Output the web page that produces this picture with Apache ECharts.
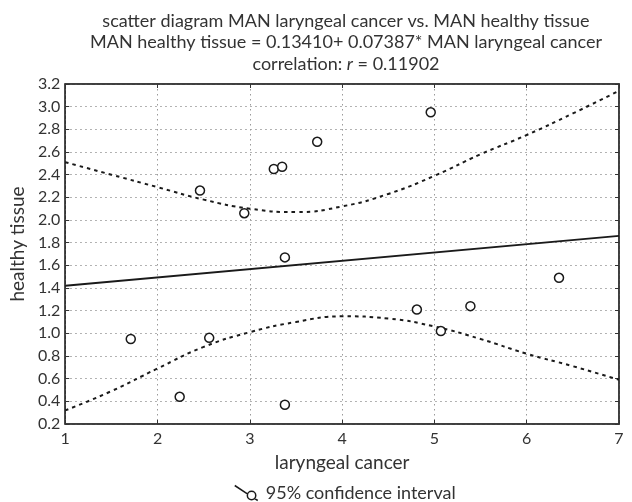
<!DOCTYPE html>
<html>
<head>
<meta charset="utf-8">
<script src="https://cdn.jsdelivr.net/npm/echarts@6/dist/echarts.min.js"></script>
<style>
html,body{margin:0;padding:0;background:#fff;}
#chart{width:632px;height:502px;}
</style>
</head>
<body>
<div id="chart"></div>
<script>
// Observed points (laryngeal cancer, healthy tissue)
var pointX = [1.71, 2.24, 2.56, 3.38, 2.46, 2.94, 3.26, 3.35, 3.38, 3.73, 4.96, 4.81, 5.07, 5.39, 6.35];
var pointY = [0.95, 0.44, 0.96, 0.37, 2.26, 2.06, 2.45, 2.47, 1.67, 2.69, 2.95, 1.21, 1.02, 1.24, 1.49];

// Regression line endpoints
var fitX = [1, 7];
var fitY = [1.42, 1.86];

// 95% confidence band, sampled from the chart
var bandX = [1, 1.5, 2, 2.5, 3, 3.5, 4, 4.5, 5, 5.5, 6, 6.5, 7];
var bandUpper = [2.51, 2.40, 2.29, 2.18, 2.10, 2.07, 2.12, 2.23, 2.39, 2.58, 2.75, 2.94, 3.14];
var bandLower = [0.32, 0.49, 0.69, 0.88, 1.01, 1.10, 1.15, 1.13, 1.06, 0.95, 0.82, 0.71, 0.59];

var xTicks = [1, 2, 3, 4, 5, 6, 7];
var yTicks = [0.2, 0.4, 0.6, 0.8, 1.0, 1.2, 1.4, 1.6, 1.8, 2.0, 2.2, 2.4, 2.6, 2.8, 3.0, 3.2];

var titleLines = [
  'scatter diagram MAN laryngeal cancer vs. MAN healthy tissue',
  'MAN healthy tissue = 0.13410+ 0.07387* MAN laryngeal cancer',
  'correlation: {i|r} = 0.11902'
];
var xName = 'laryngeal cancer';
var yName = 'healthy tissue';
var bandName = '95% confidence interval';

function zip(a, b) { return a.map(function (v, i) { return [v, b[i]]; }); }

var FONT = 'Lato';
var TXT = '#333';
var INK = '#1a1a1a';

var chart = echarts.init(document.getElementById('chart'), null, {renderer: 'canvas'});
var gridLine = {show: true, lineStyle: {color: '#9a9a9a', type: [1.5, 3.5], width: 1}};

chart.setOption({
  animation: false,
  backgroundColor: '#fff',
  title: {
    text: titleLines.join('\n'),
    left: 341, top: 5, textAlign: 'center',
    textStyle: {
      fontFamily: FONT, fontSize: 18, fontWeight: 'normal', color: TXT, lineHeight: 21.5,
      rich: {i: {fontFamily: FONT, fontSize: 18, fontStyle: 'italic', color: TXT, lineHeight: 21.5}}
    }
  },
  legend: {
    data: [bandName],
    left: 229, top: 479,
    itemWidth: 23, itemHeight: 15, itemGap: 8,
    icon: 'path://M0,0L13,8.6M20,13.2L23,15M21,10A4.2,4.2,0,1,1,12.6,10A4.2,4.2,0,1,1,21,10',
    itemStyle: {color: 'rgba(0,0,0,0)', borderColor: INK, borderWidth: 1.5, borderType: 'solid'},
    textStyle: {fontFamily: FONT, fontSize: 18, color: TXT, padding: [0, 0, 0, 3]}
  },
  grid: {left: 63, right: 13, top: 84, bottom: 78, show: true, borderColor: '#333', borderWidth: 1.5, backgroundColor: '#fff'},
  xAxis: [{
    type: 'value', min: 1, max: 7, interval: 1, position: 'bottom',
    name: xName, nameLocation: 'middle', nameGap: 29,
    nameTextStyle: {fontFamily: FONT, fontSize: 19, color: TXT},
    axisLine: {show: true, onZero: false, lineStyle: {color: '#333', width: 1.5}},
    axisTick: {show: true, inside: true, length: 4, lineStyle: {color: '#333'}},
    axisLabel: {fontFamily: FONT, fontSize: 16, color: TXT, margin: 7},
    splitLine: gridLine
  }, {
    type: 'value', min: 1, max: 7, interval: 1, position: 'top',
    axisLine: {show: true, onZero: false, lineStyle: {color: '#333', width: 1.5}},
    axisTick: {show: true, inside: true, length: 4, lineStyle: {color: '#333'}},
    axisLabel: {show: false}, splitLine: {show: false}
  }],
  yAxis: [{
    type: 'value', min: 0.2, max: 3.2, interval: 0.2, position: 'left',
    name: yName, nameLocation: 'middle', nameGap: 36,
    nameTextStyle: {fontFamily: FONT, fontSize: 19, color: TXT, padding: [0, 0, 0, 20]},
    axisLine: {show: true, onZero: false, lineStyle: {color: '#333', width: 1.5}},
    axisTick: {show: true, inside: true, length: 4, lineStyle: {color: '#333'}},
    axisLabel: {fontFamily: FONT, fontSize: 16, color: TXT, margin: 5,
      formatter: function (v) { return v.toFixed(1); }},
    splitLine: gridLine
  }, {
    type: 'value', min: 0.2, max: 3.2, interval: 0.2, position: 'right',
    axisLine: {show: true, onZero: false, lineStyle: {color: '#333', width: 1.5}},
    axisTick: {show: true, inside: true, length: 4, lineStyle: {color: '#333'}},
    axisLabel: {show: false}, splitLine: {show: false}
  }],
  series: [{
    name: 'fit', type: 'line', data: zip(fitX, fitY), showSymbol: false, symbol: 'none',
    lineStyle: {color: INK, width: 1.8}, z: 2
  }, {
    name: bandName, type: 'line', data: zip(bandX, bandUpper), showSymbol: false, symbol: 'none', smooth: true,
    lineStyle: {color: INK, width: 2, type: [3.5, 4]}, z: 2
  }, {
    name: bandName, type: 'line', data: zip(bandX, bandLower), showSymbol: false, symbol: 'none', smooth: true,
    lineStyle: {color: INK, width: 2, type: [3.5, 4]}, z: 2
  }, {
    name: 'points', type: 'scatter', data: zip(pointX, pointY), symbol: 'circle', symbolSize: 9,
    itemStyle: {color: '#fff', borderColor: INK, borderWidth: 1.5, opacity: 1}, z: 3
  }]
});
</script>
</body>
</html>
